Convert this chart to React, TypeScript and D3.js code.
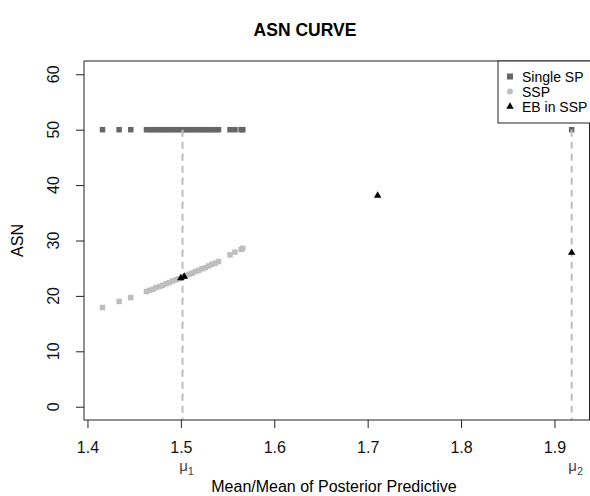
import React, { useEffect, useRef } from "react";
import * as d3 from "d3";

// design points (mean / mean of posterior predictive)
const designX = [
  1.4161, 1.4339, 1.4464, 1.4632, 1.4668, 1.4701, 1.4735, 1.4772, 1.4806,
  1.4841, 1.4877, 1.4912, 1.4946, 1.4981, 1.5018, 1.5052, 1.5087, 1.5121,
  1.5156, 1.5192, 1.5227, 1.5261, 1.5297, 1.5332, 1.5368, 1.5403, 1.5526,
  1.5579, 1.5645, 1.5663, 1.9184,
];
const singleSP = [
  50, 50, 50, 50, 50, 50, 50, 50, 50, 50, 50, 50, 50, 50, 50, 50, 50, 50, 50,
  50, 50, 50, 50, 50, 50, 50, 50, 50, 50, 50, 50,
];
const sspX = designX.slice(0, 30);
const ssp = [
  17.9, 19.0, 19.7, 20.8, 21.0, 21.2, 21.5, 21.7, 21.9, 22.2, 22.4, 22.7, 22.9,
  23.1, 23.4, 23.6, 23.9, 24.1, 24.4, 24.6, 24.9, 25.1, 25.4, 25.7, 25.9, 26.2,
  27.4, 27.9, 28.4, 28.6,
];
const ebX = [1.4999, 1.5036, 1.7107, 1.9184];
const ebY = [23.2, 23.5, 38.1, 27.8];
const muX = [1.5018, 1.9184];
const muLabels = ["1", "2"];
const xTicks = [1.4, 1.5, 1.6, 1.7, 1.8, 1.9];
const yTicks = [0, 10, 20, 30, 40, 50, 60];
const legendItems = ["Single SP", "SSP", "EB in SSP"];

const font = "'Liberation Sans', Arial, sans-serif";

export default function App() {
  const ref = useRef<SVGSVGElement>(null);

  useEffect(() => {
    const width = 590;
    const height = 496;
    const margin = { top: 61, right: 0.5, bottom: 76, left: 84 };

    const svg = d3.select(ref.current);
    svg.selectAll("*").remove();
    svg.attr("width", width).attr("height", height);

    const x = d3
      .scaleLinear()
      .domain([1.3963, 1.9375])
      .range([margin.left, width - margin.right]);
    const y = d3
      .scaleLinear()
      .domain([-2.4, 62.4])
      .range([height - margin.bottom, margin.top]);

    const bottom = height - margin.bottom;

    // title
    svg
      .append("text")
      .attr("x", 305)
      .attr("y", 36)
      .attr("text-anchor", "middle")
      .style("font-family", font)
      .style("font-weight", "bold")
      .style("font-size", "17.5px")
      .text("ASN CURVE");

    // x axis
    const xAxis = svg
      .append("g")
      .attr("transform", `translate(0,${bottom})`)
      .call(
        d3
          .axisBottom(x)
          .tickValues(xTicks)
          .tickFormat(d3.format(".1f"))
          .tickSize(8)
          .tickSizeOuter(0)
          .tickPadding(14)
      );
    xAxis.select(".domain").remove();
    xAxis.selectAll("line").attr("stroke", "#222");
    xAxis
      .selectAll("text")
      .style("font-family", font)
      .style("font-size", "16px")
      .attr("fill", "#111");

    // y axis
    const yAxis = svg
      .append("g")
      .attr("transform", `translate(${margin.left},0)`)
      .call(d3.axisLeft(y).tickValues(yTicks).tickSize(8).tickSizeOuter(0));
    yAxis.select(".domain").remove();
    yAxis.selectAll("line").attr("stroke", "#222");
    yAxis.selectAll("text").remove();
    svg
      .append("g")
      .selectAll("text")
      .data(yTicks)
      .join("text")
      .attr("transform", (d) => `translate(59,${y(d)}) rotate(-90)`)
      .attr("text-anchor", "middle")
      .style("font-family", font)
      .style("font-size", "16px")
      .attr("fill", "#111")
      .text((d) => d);

    // axis titles
    svg
      .append("text")
      .attr("transform", `translate(23,${(margin.top + bottom) / 2}) rotate(-90)`)
      .attr("text-anchor", "middle")
      .style("font-family", font)
      .style("font-size", "16px")
      .text("ASN");
    svg
      .append("text")
      .attr("x", 334)
      .attr("y", 492)
      .attr("text-anchor", "middle")
      .style("font-family", font)
      .style("font-size", "16px")
      .text("Mean/Mean of Posterior Predictive");

    // mu labels
    muX.forEach((m, i) => {
      const t = svg
        .append("text")
        .attr("x", x(m) + 4)
        .attr("y", 471)
        .attr("text-anchor", "middle")
        .style("font-family", font)
        .style("font-size", "15px")
        .attr("fill", "#444");
      t.append("tspan").text("μ");
      t.append("tspan")
        .attr("dy", 4)
        .style("font-size", "11px")
        .text(muLabels[i]);
    });

    // Single SP
    const sq = 5.5;
    svg
      .append("g")
      .selectAll("rect")
      .data(designX.map((d, i) => [d, singleSP[i]]))
      .join("rect")
      .attr("x", (d) => x(d[0]) - sq / 2)
      .attr("y", (d) => y(d[1]) - sq / 2)
      .attr("width", sq)
      .attr("height", sq)
      .attr("fill", "#666");

    // SSP
    svg
      .append("g")
      .selectAll("rect")
      .data(sspX.map((d, i) => [d, ssp[i]]))
      .join("rect")
      .attr("x", (d) => x(d[0]) - sq / 2)
      .attr("y", (d) => y(d[1]) - sq / 2)
      .attr("width", sq)
      .attr("height", sq)
      .attr("fill", "#bebebe");

    // reference lines at mu1, mu2
    svg
      .append("g")
      .selectAll("line")
      .data(muX)
      .join("line")
      .attr("x1", (d) => x(d))
      .attr("x2", (d) => x(d))
      .attr("y1", y(50))
      .attr("y2", bottom)
      .attr("stroke", "#bebebe")
      .attr("stroke-width", 2)
      .attr("stroke-dasharray", "7,5");

    // EB in SSP
    const tri = d3.symbol().type(d3.symbolTriangle).size(24);
    svg
      .append("g")
      .selectAll("path")
      .data(ebX.map((d, i) => [d, ebY[i]]))
      .join("path")
      .attr("d", tri)
      .attr("transform", (d) => `translate(${x(d[0])},${y(d[1])})`)
      .attr("fill", "#000");

    // plot box
    svg
      .append("rect")
      .attr("x", margin.left)
      .attr("y", margin.top)
      .attr("width", width - margin.right - margin.left)
      .attr("height", bottom - margin.top)
      .attr("fill", "none")
      .attr("stroke", "#222");

    // legend
    const lg = svg.append("g").attr("transform", `translate(498,${margin.top})`);
    lg.append("rect")
      .attr("width", 100)
      .attr("height", 62)
      .attr("fill", "#fff")
      .attr("stroke", "#222");
    legendItems.forEach((name, i) => {
      const cy = 15.5 + i * 15;
      if (i === 0) {
        lg.append("rect")
          .attr("x", 9)
          .attr("y", cy - 3)
          .attr("width", 6)
          .attr("height", 6)
          .attr("fill", "#666");
      } else if (i === 1) {
        lg.append("circle")
          .attr("cx", 12)
          .attr("cy", cy)
          .attr("r", 3)
          .attr("fill", "#bebebe");
      } else {
        lg.append("path")
          .attr("d", tri)
          .attr("transform", `translate(12,${cy})`)
          .attr("fill", "#000");
      }
      lg.append("text")
        .attr("x", 24)
        .attr("y", cy + 5)
        .style("font-family", font)
        .style("font-size", "14px")
        .text(name);
    });
  }, []);

  return (
    <svg
      ref={ref}
      style={{ position: "absolute", left: 0, top: 0, background: "#fff" }}
    ></svg>
  );
}
